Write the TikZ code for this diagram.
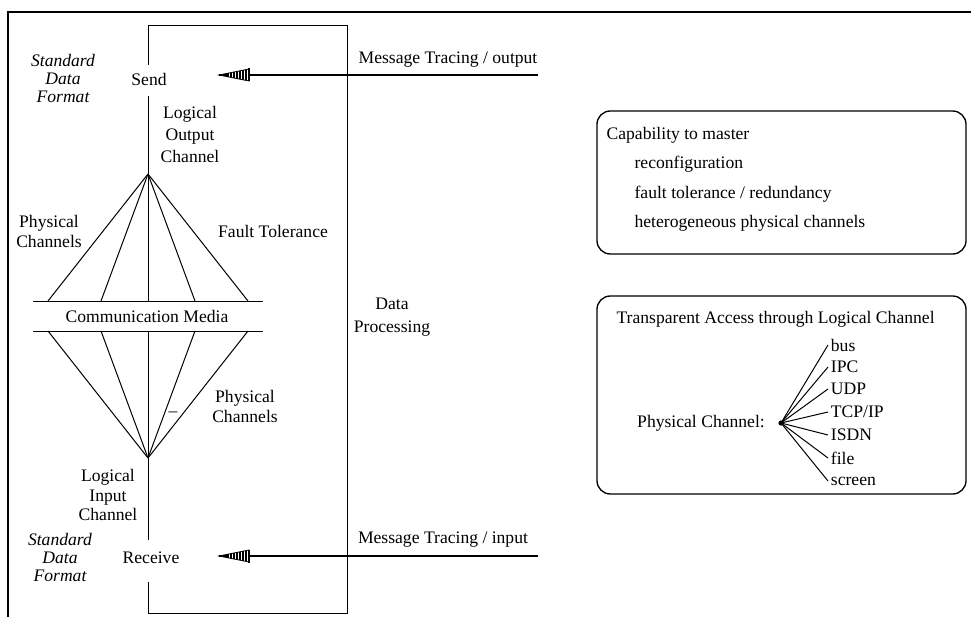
\documentclass[tikz,border=0pt]{standalone}
\usepackage{fontspec}
\setmainfont{Liberation Serif}
\begin{document}
\begin{tikzpicture}[x=0.75pt,y=-0.75pt,
  every node/.style={font=\fontsize{13.2}{16}\selectfont, inner sep=1pt},
  ln/.style={line width=0.75pt},
  fr/.style={line width=1.5pt},
  tk/.style={line width=1.5pt},
  rbox/.style={line width=1pt, rounded corners=10pt},
  sdf/.style={align=center, font=\fontsize{13.2}{13.5}\selectfont\itshape},
  ml/.style={align=center},
  hatchhead/.pic={
    \draw[line width=0.6pt] (0,0) -- (30,-6) -- (30,6) -- cycle;
    \foreach \xx in {6,9,...,27} \draw[line width=0.8pt] (\xx,{-6*\xx/30}) -- (\xx,{6*\xx/30});
    \draw[line width=1.5pt] (30,-6.5) -- (30,6.5);
    \draw[line width=1.2pt] (0,0) -- (9,0);
  }]
\useasboundingbox (0,0) rectangle (971,617);
% outer frame
\draw[fr] (8,617) -- (8,12) -- (971,12);
% data processing bracket
\draw[ln] (148,65) -- (148,26) -- (347,26) -- (347,613) -- (148,613) -- (148,582);
\node[ml, font=\fontsize{13.2}{17}\selectfont] (dp) at (392,317) {Data\\Processing};

% top part
\node (send) at (149,79) {Send};
\node[sdf] (sdf1) at (63,78) {Standard\\Data\\Format};
\coordinate (ta) at (148,174);
\draw[ln] (148,96) -- (ta);
\node[ml, font=\fontsize{13.2}{16.5}\selectfont] (loc) at (190,134) {Logical\\Output\\Channel};

% message tracing output
\coordinate (outT) at (219,75);
\coordinate (outH) at (249,75);
\coordinate (outR) at (538,75);
\draw[tk] (outR) -- (outH);
\pic at (outT) {hatchhead};
\node (mto) at (448,60) {Message Tracing / output};

% communication media
\coordinate (m1) at (33,301);
\coordinate (m2) at (263,301);
\coordinate (m3) at (33,331);
\coordinate (m4) at (263,331);
\draw[ln] (m1) -- (m2);
\draw[ln] (m3) -- (m4);
\node (cm) at (147,316) {Communication Media};
\foreach \px/\nm in {48/a,101/b,148/c,195/d,248/e}{
  \coordinate (u\nm) at (\px,301);
  \coordinate (l\nm) at (\px,331);
}
\coordinate (ba) at (148,458);
\foreach \nm in {a,b,c,d,e}{
  \draw[ln] (ta) -- (u\nm);
  \draw[ln] (l\nm) -- (ba);
}
\node[ml, font=\fontsize{13.2}{15}\selectfont] (pc1) at (49,231) {Physical\\Channels};
\node (ft) at (273,231) {Fault Tolerance};
\node[ml, font=\fontsize{13.2}{15}\selectfont] (pc2) at (245,406) {Physical\\Channels};
\node (dash) at (173,414) {\textendash};

% bottom part
\draw[ln] (ba) -- (148,540);
\node[ml, font=\fontsize{13.2}{14.5}\selectfont] (lic) at (108,495) {Logical\\Input\\Channel};
\node (recv) at (151,558) {Receive};
\node[sdf] (sdf2) at (60,557) {Standard\\Data\\Format};
\coordinate (inT) at (219,556);
\coordinate (inH) at (249,556);
\coordinate (inR) at (538,556);
\draw[tk] (inR) -- (inH);
\pic at (inT) {hatchhead};
\node (mti) at (443,540) {Message Tracing / input};

% right box 1
\draw[rbox] (597,111) rectangle (966,254);
\node[anchor=west] (cap) at (605,135) {Capability to master};
\node[anchor=west] (rc) at (633,164) {reconfiguration};
\node[anchor=west] (ftr) at (633,194) {fault tolerance / redundancy};
\node[anchor=west] (het) at (633,223) {heterogeneous physical channels};

% right box 2
\draw[rbox] (597,296) rectangle (966,494);
\node[anchor=west] (ta2) at (615,319) {Transparent Access through Logical Channel};
\node (phc) at (701,423) {Physical Channel:};
\coordinate (apx) at (781,423);
\fill (apx) circle (2.6);
\foreach \nm/\lab/\yy in {bus/bus/345, ipc/IPC/367, udp/UDP/389, tcp/TCP\slash IP/412, isdn/ISDN/435, file/file/458, scr/screen/481}{
  \node[anchor=west, inner sep=2pt] (\nm) at (828,\yy) {\lab};
  \draw[ln] (apx) -- (\nm.west);
}
\end{tikzpicture}
\end{document}
